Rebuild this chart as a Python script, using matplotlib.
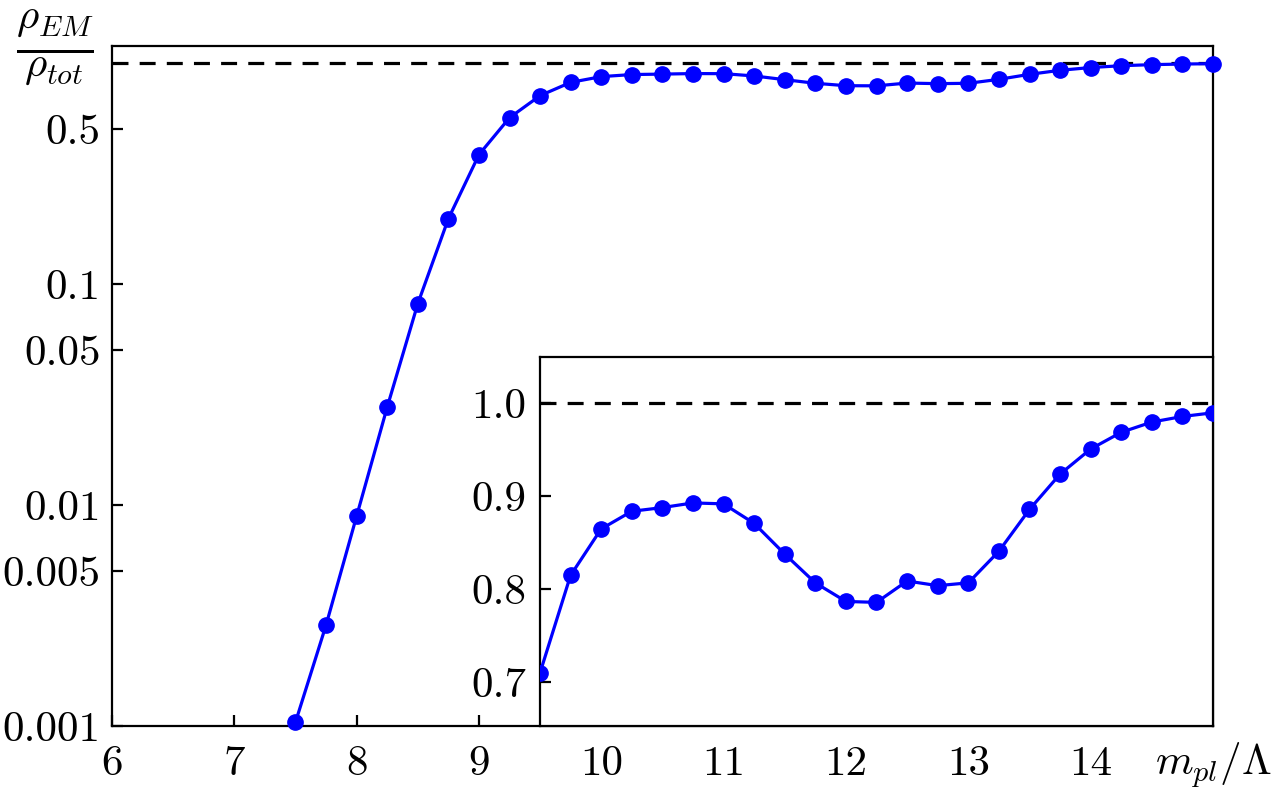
import matplotlib
matplotlib.use("Agg")
import matplotlib.pyplot as plt

# ===============================
# DATA
# ===============================
m_ratio = [7.5, 7.75, 8.0, 8.25, 8.5, 8.75, 9.0, 9.25, 9.5, 9.75, 10.0,
           10.25, 10.5, 10.75, 11.0, 11.25, 11.5, 11.75, 12.0, 12.25, 12.5,
           12.75, 13.0, 13.25, 13.5, 13.75, 14.0, 14.25, 14.5, 14.75, 15.0]
rho_frac = [0.00104, 0.00286, 0.0089, 0.0277, 0.0813, 0.197, 0.384, 0.564,
            0.71, 0.815, 0.865, 0.884, 0.888, 0.893, 0.892, 0.871, 0.838,
            0.807, 0.787, 0.786, 0.809, 0.804, 0.807, 0.841, 0.886, 0.924,
            0.951, 0.969, 0.980, 0.986, 0.990]

main_xticks = [6, 7, 8, 9, 10, 11, 12, 13, 14]
main_yticks = [0.001, 0.005, 0.01, 0.05, 0.1, 0.5]
main_ylabels = ["0.001", "0.005", "0.01", "0.05", "0.1", "0.5"]
inset_yticks = [0.7, 0.8, 0.9, 1.0]
inset_ylabels = ["0.7", "0.8", "0.9", "1.0"]

# ===============================
# STYLE
# ===============================
plt.rcParams["font.family"] = "serif"
plt.rcParams["font.serif"] = ["cmr10", "DejaVu Serif"]
plt.rcParams["mathtext.fontset"] = "cm"
plt.rcParams["axes.formatter.use_mathtext"] = True
plt.rcParams["axes.unicode_minus"] = False

FS = 31
BLUE = "#0000ff"
LW = 2.3
MS = 11
DASH = (0, (5, 3.5))


def style_axis(ax):
    for s in ax.spines.values():
        s.set_linewidth(1.6)
    ax.tick_params(which="both", direction="in", length=8, width=1.6,
                   labelsize=FS, top=False, right=False)
    ax.tick_params(which="minor", length=0)


fig = plt.figure(figsize=(12.75, 8), dpi=100)

# ===============================
# MAIN PANEL
# ===============================
ax = fig.add_axes([0.0878, 0.0925, 0.8636, 0.85])
ax.set_yscale("log")
ax.plot(m_ratio, rho_frac, color=BLUE, lw=LW, marker="o", ms=MS,
        clip_on=False, zorder=3)
ax.axhline(1.0, color="black", lw=LW, linestyle=DASH, zorder=2)
ax.set_xlim(6, 15)
ax.set_ylim(0.001, 1.19)
ax.set_xticks(main_xticks)
ax.set_xticklabels([str(t) for t in main_xticks])
ax.set_yticks(main_yticks)
ax.set_yticklabels(main_ylabels)
ax.yaxis.set_minor_locator(matplotlib.ticker.NullLocator())
style_axis(ax)
ax.tick_params(axis="x", pad=14)
ax.tick_params(axis="y", pad=8)

ax.text(1.0, -0.058, r"$m_{pl}/\Lambda$", transform=ax.transAxes,
        ha="center", va="center", fontsize=FS)
fig.text(0.043, 0.94, r"$\frac{\rho_{EM}}{\rho_{tot}}$", ha="center",
         va="center", fontsize=FS + 13)

# ===============================
# INSET
# ===============================
ins = fig.add_axes([0.4235, 0.0925, 0.5279, 0.46125])
ins.plot(m_ratio, rho_frac, color=BLUE, lw=LW, marker="o", ms=MS, zorder=3)
ins.axhline(1.0, color="black", lw=LW, linestyle=DASH, zorder=2)
ins.set_xlim(9.5, 15)
ins.set_ylim(0.653, 1.05)
ins.set_xticks([])
ins.set_yticks(inset_yticks)
ins.set_yticklabels(inset_ylabels)
style_axis(ins)
ins.tick_params(axis="y", pad=10)

fig.savefig("out.png", dpi=100)
